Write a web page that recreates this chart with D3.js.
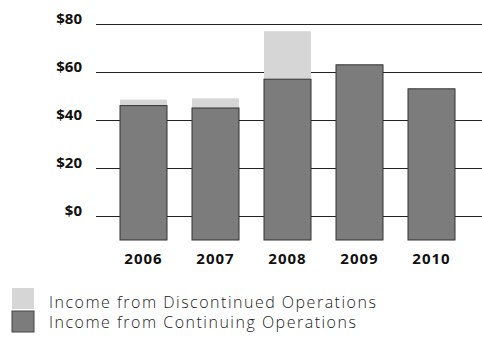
<!DOCTYPE html>
<html>
<head>
<meta charset="utf-8">
<script src="https://cdn.jsdelivr.net/npm/d3@7"></script>
<style>
  body { margin: 0; background: #fff; }
  text { font-family: "Open Sans", "Noto Sans", sans-serif; }
</style>
</head>
<body>
<div id="chart"></div>
<script>
const width = 482, height = 341;

const years = ["2006", "2007", "2008", "2009", "2010"];
const continuing = [46, 45, 57, 63, 53];
const discontinued = [2.5, 4, 20, 0, 0];
const yTicks = [0, 20, 40, 60, 80];
const legendLabels = ["Income from Discontinued Operations", "Income from Continuing Operations"];

const svg = d3.select("#chart").append("svg")
  .attr("width", width)
  .attr("height", height);

// step 72px, bars 47px wide, first bar starting 24px right of grid start
const x = d3.scaleBand()
  .domain(years)
  .range([96, 96 + 72 * 5 + 23])
  .paddingInner(25 / 72)
  .paddingOuter(24 / 72);

const y = d3.scaleLinear()
  .domain([-10, 80])
  .range([240, 24]);

// gridlines
svg.append("g")
  .selectAll("line")
  .data(yTicks)
  .join("line")
  .attr("x1", 96)
  .attr("x2", width)
  .attr("y1", d => Math.round(y(d)) + 0.5)
  .attr("y2", d => Math.round(y(d)) + 0.5)
  .attr("stroke", "#222")
  .attr("stroke-width", 1);

// y labels
svg.append("g")
  .selectAll("text")
  .data(yTicks)
  .join("text")
  .attr("x", 82)
  .attr("y", d => y(d))
  .attr("text-anchor", "end")
  .attr("font-size", 15)
  .attr("font-weight", "bold")
  .attr("fill", "#111")
  .text(d => "$" + d);

const rows = years.map((yr, i) => ({ year: yr, cont: continuing[i], disc: discontinued[i] }));

// discontinued (stacked on top)
svg.append("g")
  .selectAll("rect")
  .data(rows.filter(d => d.disc > 0))
  .join("rect")
  .attr("x", d => x(d.year))
  .attr("width", x.bandwidth())
  .attr("y", d => y(d.cont + d.disc))
  .attr("height", d => y(d.cont) - y(d.cont + d.disc))
  .attr("fill", "#d6d6d6");

// continuing
svg.append("g")
  .selectAll("rect")
  .data(rows)
  .join("rect")
  .attr("x", d => x(d.year))
  .attr("width", x.bandwidth())
  .attr("y", d => y(d.cont))
  .attr("height", d => y(-10) - y(d.cont))
  .attr("fill", "#7c7c7c")
  .attr("stroke", "#333")
  .attr("stroke-width", 1);

// year labels
svg.append("g")
  .selectAll("text")
  .data(years)
  .join("text")
  .attr("x", d => x(d) + x.bandwidth() / 2)
  .attr("y", 264)
  .attr("text-anchor", "middle")
  .attr("font-size", 15)
  .attr("font-weight", "bold")
  .attr("letter-spacing", 1)
  .attr("fill", "#111")
  .text(d => d);

// legend
const legend = svg.append("g");
const swatchColors = ["#d6d6d6", "#7c7c7c"];
legend.selectAll("rect")
  .data(legendLabels)
  .join("rect")
  .attr("x", 12)
  .attr("y", (d, i) => 288 + i * 23)
  .attr("width", 22)
  .attr("height", 21)
  .attr("fill", (d, i) => swatchColors[i])
  .attr("stroke", (d, i) => i === 1 ? "#444" : "none");

legend.selectAll("text")
  .data(legendLabels)
  .join("text")
  .attr("x", 49)
  .attr("y", (d, i) => 308 + i * 20)
  .attr("font-size", 16)
  .attr("font-weight", 300)
  .attr("letter-spacing", 1.5)
  .attr("fill", "#222")
  .text(d => d);
</script>
</body>
</html>
